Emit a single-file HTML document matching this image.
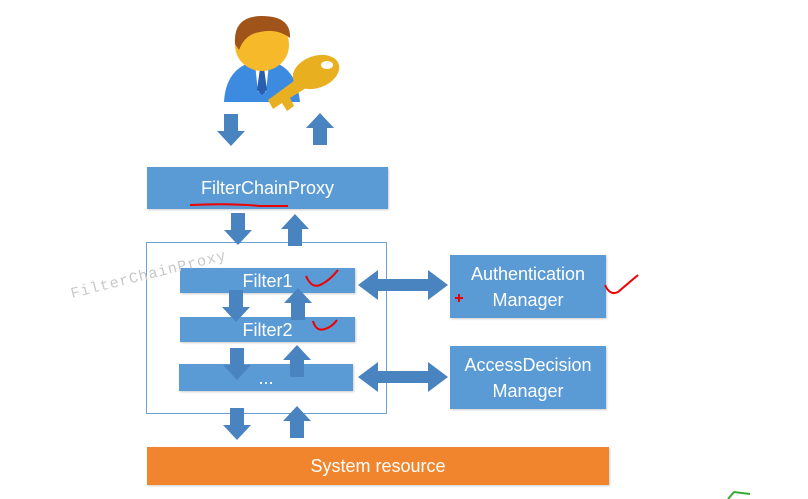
<!DOCTYPE html>
<html><head><style>
body{margin:0;width:808px;height:499px;background:#fff;position:relative;overflow:hidden;font-family:"Liberation Sans",sans-serif}
.b{position:absolute;background:#5b9bd5;color:#fff;display:flex;align-items:center;justify-content:center;text-align:center;font-size:18px;line-height:26px;box-shadow:1px 1px 2px rgba(0,0,0,.2)}
svg{position:absolute;left:0;top:0}
</style></head><body>
<div class="b" style="left:147px;top:167px;width:241px;height:42px">FilterChainProxy</div>
<div style="position:absolute;left:146px;top:242px;width:241px;height:172px;border:1.5px solid #6c9fd3;box-sizing:border-box"></div>
<div class="b" style="left:180px;top:268px;width:175px;height:25px">Filter1</div>
<div class="b" style="left:180px;top:317px;width:175px;height:25px">Filter2</div>
<div class="b" style="left:179px;top:364px;width:174px;height:27px">...</div>
<div class="b" style="left:450px;top:255px;width:156px;height:63px">Authentication<br>Manager</div>
<div class="b" style="left:450px;top:346px;width:156px;height:63px">AccessDecision<br>Manager</div>
<div class="b" style="left:147px;top:447px;width:462px;height:38px;background:#f0852d">System resource</div>
<svg width="808" height="499">
<defs>
<g id="d"><polygon points="-7,0 7,0 7,17 14,17 0,32 -14,17 -7,17" fill="#4a84c0"/></g>
<g id="u"><polygon points="-7,32 7,32 7,15 14,15 0,0 -14,15 -7,15" fill="#4a84c0"/></g>
</defs>
<use href="#d" x="231" y="114"/><use href="#u" x="320" y="113"/>
<use href="#d" x="238" y="213"/><use href="#u" x="295" y="214"/>
<use href="#d" x="236" y="290"/><use href="#u" x="298" y="288"/>
<use href="#d" x="237" y="348"/><use href="#u" x="297" y="345"/>
<use href="#d" x="237" y="408"/><use href="#u" x="297" y="406"/>
<polygon points="358,285 378,270 378,279 428,279 428,270 448,285 428,300 428,291 378,291 378,300" fill="#4a84c0"/>
<polygon points="358,377 378,362 378,371 428,371 428,362 448,377 428,392 428,383 378,383 378,392" fill="#4a84c0"/>
<path d="M224,102 Q226,64 262,60 Q296,62 300,102 Z" fill="#3d8be0"/>
<polygon points="255,64 269,64 266,92 258,92" fill="#fff"/>
<polygon points="260,68 264,68 267,90 262,95 257,90" fill="#2a5fb0"/>
<ellipse cx="262" cy="45" rx="27" ry="26" fill="#f6b92a"/>
<path d="M235,44 Q233,16 262,16 Q291,16 290,38 Q277,28 260,32 Q245,34 239,50 Z" fill="#a0541a"/>
<ellipse cx="316" cy="72" rx="24" ry="16" fill="#e8b020" transform="rotate(-20 316 72)"/>
<ellipse cx="327" cy="65" rx="6" ry="4" fill="#fff"/>
<polygon points="298,78 268,100 273,109 282,103 287,111 294,106 290,98 306,88" fill="#e8b020"/>
<path d="M190,205 Q230,203 260,206 L288,206" stroke="#e00" stroke-width="2" fill="none"/>
<path d="M306,276 Q312,290 322,284 Q330,280 338,270" stroke="#e00" stroke-width="2" fill="none"/>
<path d="M313,321 Q316,332 325,329 Q332,327 337,320" stroke="#e00" stroke-width="2" fill="none"/>
<path d="M605,285 Q610,296 618,292 L638,275" stroke="#e00" stroke-width="2" fill="none"/>
<path d="M455,298 h8 M459,294 v8" stroke="#e00" stroke-width="2"/>
<text x="72" y="298" transform="rotate(-14 72 298)" font-family="Liberation Mono,monospace" font-size="15" fill="#c8c8c8" letter-spacing="1">FilterChainProxy</text>
<path d="M728,499 L734,492 L750,494" stroke="#3a3" stroke-width="2" fill="none"/>
</svg>
</body></html>
